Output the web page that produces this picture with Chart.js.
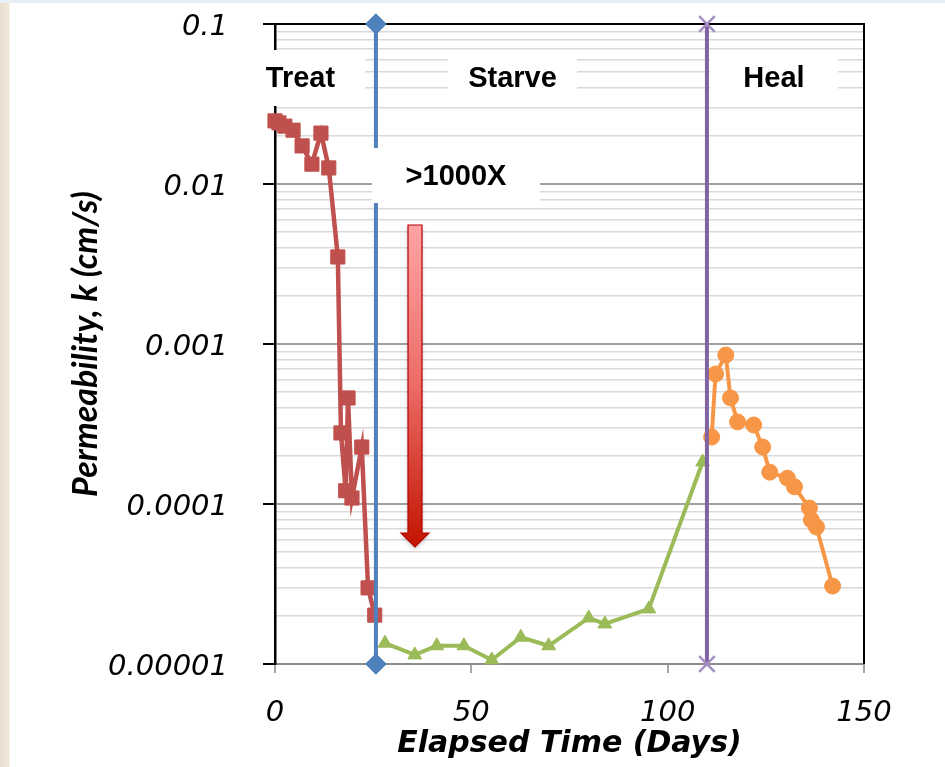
<!DOCTYPE html>
<html>
<head>
<meta charset="utf-8">
<script src="https://cdn.jsdelivr.net/npm/chart.js@4.4.1/dist/chart.umd.min.js"></script>
<style>
  html, body { margin: 0; padding: 0; }
  body {
    width: 945px; height: 767px; overflow: hidden;
    background:
      linear-gradient(#e8eff7 0, #e8eff7 3px, transparent 3px),
      linear-gradient(to right, #e9dccb 0, #f1e8dc 9px, #fff 10px);
  }
  #permChart { position: absolute; left: 0; top: 0; }
</style>
</head>
<body>
<canvas id="permChart" width="945" height="767"></canvas>
<script>
// phase boundaries (days)
const phaseDays = [25.7, 110];

// Treat phase
const treatDays = [0, 1, 2.5, 4.6, 6.9, 9.4, 11.7, 13.7, 16, 16.8, 18, 18.6, 19.6, 22.1, 23.7, 25.4];
const treatK = [0.0248, 0.0241, 0.0230, 0.0217, 0.0173, 0.0133, 0.0208, 0.0126, 0.0035,
                0.000278, 0.000121, 0.00046, 0.000109, 0.000227, 0.0000299, 0.0000202];

// Starve phase
const starveDays = [28, 35.6, 41.2, 48.1, 55.2, 62.6, 69.7, 79.9, 84, 95.2, 108.9];
const starveK = [0.0000135, 0.0000114, 0.0000130, 0.0000130, 0.0000106, 0.0000147,
                 0.0000130, 0.0000194, 0.0000178, 0.0000221, 0.000183];

// Heal phase
const healDays = [111.2, 112.2, 114.8, 116, 117.8, 121.9, 124.2, 126, 130.5, 132.3, 136.1, 136.6, 137.9, 142];
const healK = [0.000262, 0.000649, 0.000853, 0.00046, 0.000326, 0.000312, 0.000227, 0.000158,
               0.000145, 0.000128, 0.0000944, 0.0000794, 0.0000718, 0.0000307];

const xTickStep = 50;
const yTickValues = [0.1, 0.01, 0.001, 0.0001, 0.00001];
const yTickLabels = ['0.1', '0.01', '0.001', '0.0001', '0.00001'];

// white text boxes drawn over the grid
const textBoxes = [
  { text: 'Treat',  x: 236, y: 50,  w: 129, h: 56 },
  { text: 'Starve', x: 448, y: 50,  w: 129, h: 56 },
  { text: 'Heal',   x: 710, y: 50,  w: 128, h: 56 },
  { text: '>1000X', x: 372, y: 148, w: 168, h: 55 }
];

function pts(xs, ys) {
  return xs.map((x, i) => ({ x: x, y: ys[i] }));
}

function isDecade(v) {
  const l = Math.log10(v);
  return Math.abs(l - Math.round(l)) < 1e-6;
}

const overlays = {
  id: 'overlays',
  beforeDatasetsDraw(chart) {
    const { ctx, chartArea: a } = chart;
    ctx.save();
    ctx.strokeStyle = '#000';
    ctx.lineWidth = 2;
    ctx.beginPath();
    ctx.moveTo(a.left, a.top);
    ctx.lineTo(a.right, a.top);
    ctx.lineTo(a.right, a.bottom);
    ctx.stroke();
    ctx.restore();
  },
  afterDatasetsDraw(chart) {
    const ctx = chart.ctx;
    ctx.save();
    ctx.font = 'bold 29px "Liberation Sans", Arial, sans-serif';
    ctx.textAlign = 'center';
    ctx.textBaseline = 'middle';
    textBoxes.forEach(b => {
      ctx.fillStyle = '#fff';
      ctx.fillRect(b.x, b.y, b.w, b.h);
      ctx.fillStyle = '#000';
      ctx.fillText(b.text, b.x + b.w / 2, b.y + b.h / 2 + 1);
    });

    // red down arrow
    const g = ctx.createLinearGradient(0, 225, 0, 547);
    g.addColorStop(0, '#ffa4a4');
    g.addColorStop(0.5, '#ec6b66');
    g.addColorStop(1, '#c21400');
    ctx.shadowColor = 'rgba(0,0,0,0.25)';
    ctx.shadowBlur = 4;
    ctx.shadowOffsetY = 2;
    ctx.beginPath();
    ctx.moveTo(408, 225);
    ctx.lineTo(422, 225);
    ctx.lineTo(422, 533);
    ctx.lineTo(429, 533);
    ctx.lineTo(415, 547);
    ctx.lineTo(401, 533);
    ctx.lineTo(408, 533);
    ctx.closePath();
    ctx.fillStyle = g;
    ctx.fill();
    ctx.shadowColor = 'transparent';
    ctx.strokeStyle = '#b80000';
    ctx.lineWidth = 1.2;
    ctx.stroke();
    ctx.restore();
  }
};

const tickFont = { family: '"DejaVu Sans", Verdana, sans-serif', style: 'italic' };

new Chart(document.getElementById('permChart'), {
  type: 'line',
  data: {
    datasets: [
      {
        label: 'Starve start',
        data: pts([phaseDays[0], phaseDays[0]], [yTickValues[0], yTickValues[4]]),
        borderColor: '#4f81bd', backgroundColor: '#4f81bd',
        borderWidth: 4, pointStyle: 'rectRot', pointRadius: 8, clip: false
      },
      {
        label: 'Heal start',
        data: pts([phaseDays[1], phaseDays[1]], [yTickValues[0], yTickValues[4]]),
        borderColor: '#8064a2', backgroundColor: '#8064a2',
        pointBorderColor: '#a48dc3', pointBorderWidth: 2.5,
        borderWidth: 4, pointStyle: 'crossRot', pointRadius: 11, clip: false
      },
      {
        label: 'Treat',
        data: pts(treatDays, treatK),
        borderColor: '#c0504d', backgroundColor: '#c0504d',
        borderWidth: 4.5, pointStyle: 'rect', pointRadius: 10, pointBorderWidth: 1, clip: false
      },
      {
        label: 'Starve',
        data: pts(starveDays, starveK),
        borderColor: '#9bbb59', backgroundColor: '#9bbb59',
        borderWidth: 4, pointStyle: 'triangle', pointRadius: 8, pointBorderWidth: 1, clip: false
      },
      {
        label: 'Heal',
        data: pts(healDays, healK),
        borderColor: '#f79646', backgroundColor: '#f79646',
        borderWidth: 4, pointStyle: 'circle', pointRadius: 8, pointBorderWidth: 1, clip: false
      }
    ]
  },
  options: {
    responsive: false,
    animation: false,
    layout: { padding: { left: 0, right: 81, top: 24, bottom: 0 } },
    plugins: { legend: { display: false }, tooltip: { enabled: false } },
    elements: { line: { tension: 0 } },
    scales: {
      x: {
        type: 'linear', min: 0, max: 150,
        afterFit: s => { s.height = 103; },
        ticks: {
          stepSize: xTickStep, color: '#000', padding: 23,
          font: Object.assign({ size: 29 }, tickFont)
        },
        grid: { drawOnChartArea: false, tickLength: 9, color: '#a6a6a6', lineWidth: 2 },
        border: { color: '#8c8c8c', width: 2 },
        title: {
          display: true, text: 'Elapsed Time (Days)', color: '#000',
          font: { family: '"DejaVu Sans", Verdana, sans-serif', size: 30, style: 'italic', weight: 'bold' },
          padding: { top: 0, bottom: 5 }
        }
      },
      y: {
        type: 'logarithmic', min: yTickValues[4], max: yTickValues[0],
        afterFit: s => {
          s.width = 275;
          s.paddingTop = 0;
          s.paddingBottom = 0;
        },
        afterBuildTicks: s => {
          const t = [];
          for (let e = -5; e <= -2; e++) {
            for (let m = 1; m <= 9; m++) t.push({ value: Number((m * Math.pow(10, e)).toPrecision(3)) });
          }
          t.push({ value: yTickValues[0] });
          s.ticks = t;
        },
        ticks: {
          autoSkip: false, color: '#000', padding: 35, labelOffset: 3,
          font: Object.assign({ size: 29 }, tickFont),
          callback: v => {
            const i = yTickValues.findIndex(d => Math.abs(d - v) / d < 1e-6);
            return i >= 0 ? yTickLabels[i] : '';
          }
        },
        grid: {
          tickLength: 12,
          color: c => isDecade(c.tick.value) ? '#a0a0a0' : '#d9d9d9',
          lineWidth: c => isDecade(c.tick.value) ? 2 : 1.5,
          tickColor: c => isDecade(c.tick.value) ? '#000' : 'rgba(0,0,0,0)'
        },
        border: { color: '#000', width: 2.5 },
        title: {
          display: true, text: 'Permeability, k (cm/s)', color: '#000',
          font: { family: 'Lato, "Open Sans", sans-serif', size: 34, style: 'italic', weight: 'bold' },
          padding: { top: 66, bottom: 0 }
        }
      }
    }
  },
  plugins: [overlays]
});
</script>
</body>
</html>
